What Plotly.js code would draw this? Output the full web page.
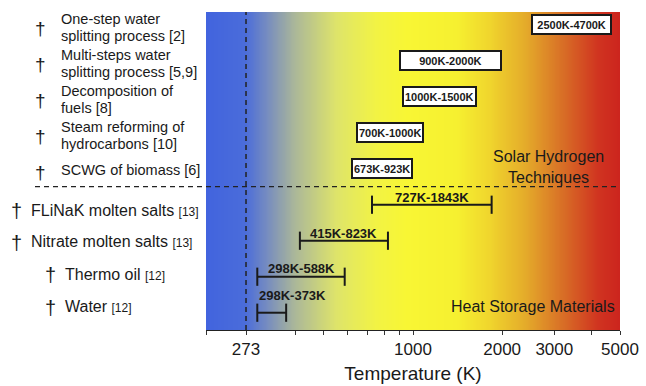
<!DOCTYPE html>
<html><head><meta charset="utf-8">
<script src="https://cdn.plot.ly/plotly-3.0.1.min.js"></script>
<style>html,body{margin:0;padding:0;background:#fff}#chart{width:646px;height:386px}</style>
</head><body><div id="chart"></div>
<script>
// ---- Data ----
const solarLines = [["One-step water","splitting process [2]"],["Multi-steps water","splitting process [5,9]"],["Decomposition of","fuels [8]"],["Steam reforming of","hydrocarbons [10]"],["SCWG of biomass [6]"]];
const solarLo = [2500, 900, 1000, 700, 673];
const solarHi = [4700, 2000, 1500, 1000, 923];
const heatNames = ["FLiNaK molten salts","Nitrate molten salts","Thermo oil","Water"];
const heatRefs = ["[13]","[13]","[12]","[12]"];
const heatLo = [727, 415, 298, 298];
const heatHi = [1843, 823, 588, 373];
const tickVals = [273, 1000, 2000, 3000, 5000];
const tickText = ["273","1000","2000","3000","5000"];
const minorTicks = [200, 400, 500, 600, 700, 800, 900, 4000];
const freezingK = 273;
const xRange = [200, 5000];

// ---- Style / layout ----
const FONT = "Arial, 'Liberation Sans', Helvetica, sans-serif";
const W = 646, H = 386, L = 206, R = 26, T = 12, B = 56;
const plotW = W - L - R;
const logMin = Math.log10(xRange[0]), logMax = Math.log10(xRange[1]);
const ppd = plotW / (logMax - logMin);
const yRange = [8.48, -0.353];
const INK = '#1a1a1a';

// background colour stops (temperature, rgb)
const gradStops = [[200,[66,100,222]],[270,[74,108,218]],[320,[118,140,192]],[400,[172,184,152]],[550,[222,228,106]],[750,[242,243,68]],[950,[248,246,52]],[1400,[246,240,48]],[1800,[240,214,45]],[2400,[228,170,42]],[3200,[216,110,38]],[4200,[208,52,32]],[5000,[204,36,30]]];
const colorscale = gradStops.map(s => [(Math.log10(s[0]) - logMin) / (logMax - logMin), 'rgb(' + s[1].join(',') + ')']);
const gx = [];
for (let i = 0; i <= 160; i++) gx.push(logMin + (logMax - logMin) * i / 160);

const traces = [{
  type: 'heatmap', x: gx, y: [yRange[1], yRange[0]], z: [gx, gx],
  xaxis: 'x', yaxis: 'y', colorscale: colorscale, zmin: logMin, zmax: logMax,
  showscale: false, zsmooth: 'best', hoverinfo: 'skip'
}];

const nS = solarLo.length;
heatLo.forEach((lo, i) => {
  traces.push({
    type: 'scatter', mode: 'lines+markers', x: [lo, heatHi[i]], y: [nS + i, nS + i],
    xaxis: 'x2', yaxis: 'y', showlegend: false, hoverinfo: 'skip',
    line: {color: INK, width: 2},
    marker: {symbol: 'line-ns', size: 13, color: INK, line: {width: 2, color: INK}}
  });
});

const ctx = document.createElement('canvas').getContext('2d');
ctx.font = "bold 11px Arial, 'Liberation Sans'";

const ann = [];
const px2paper = p => (p - L) / plotW;
const BOX_BW = 2, BOX_PAD = 1;

// Solar boxes
solarLo.forEach((lo, i) => {
  const hi = solarHi[i];
  const txt = lo + 'K-' + hi + 'K';
  const rangePx = (Math.log10(hi) - Math.log10(lo)) * ppd;
  const tw = ctx.measureText(txt).width;
  const a = {
    xref: 'x', yref: 'y', x: (Math.log10(lo) + Math.log10(hi)) / 2, y: i,
    text: '<b>' + txt + '</b>', showarrow: false, bgcolor: '#fff', bordercolor: INK,
    borderwidth: BOX_BW, borderpad: BOX_PAD, height: 15,
    font: {family: FONT, size: 11, color: INK}
  };
  const inner = rangePx - 2 * (BOX_BW + BOX_PAD);
  if (inner > tw + 2) a.width = inner;
  ann.push(a);
  // left labels
  const lines = solarLines[i];
  const offs = lines.length === 2 ? [-5.8, 10.8] : [1.5];
  lines.forEach((ln, k) => {
    ann.push({xref: 'paper', yref: 'y', x: px2paper(59), y: i, yshift: -offs[k], xanchor: 'left', yanchor: 'middle',
      text: ln, showarrow: false, font: {family: FONT, size: 14.5, color: INK}});
  });
  ann.push({xref: 'paper', yref: 'y', x: px2paper(40.5), y: i, yshift: -4, xanchor: 'center', yanchor: 'middle',
    text: '†', showarrow: false, font: {family: FONT, size: 19, color: INK}});
});

// Heat storage labels
const heatLabelAnchor = ['center', 'center', 'center', 'left'];
const heatLabelLift = [7, 7, 8, 17];
const heatNameShift = [5.3, 1, -2.7, -6];
const heatDaggerX = [16, 16, 50.5, 50.5];
const heatTextX = [29, 29, 63, 63];
heatLo.forEach((lo, i) => {
  const hi = heatHi[i];
  const r = nS + i;
  ann.push({xref: 'x', yref: 'y',
    x: heatLabelAnchor[i] === 'left' ? Math.log10(lo) : (Math.log10(lo) + Math.log10(hi)) / 2,
    xanchor: heatLabelAnchor[i], y: r, yshift: heatLabelLift[i], yanchor: 'middle',
    text: '<b>' + lo + 'K-' + hi + 'K</b>', showarrow: false, font: {family: FONT, size: 13, color: INK}});
  ann.push({xref: 'paper', yref: 'y', x: px2paper(heatTextX[i]), y: r, yshift: -heatNameShift[i], xanchor: 'left', yanchor: 'middle',
    text: heatNames[i] + ' <span style="font-size:12px">' + heatRefs[i] + '</span>', showarrow: false,
    font: {family: FONT, size: 16, color: INK}});
  ann.push({xref: 'paper', yref: 'y', x: px2paper(heatDaggerX[i]), y: r, yshift: -heatNameShift[i] - 1, xanchor: 'center', yanchor: 'middle',
    text: '†', showarrow: false, font: {family: FONT, size: 20, color: INK}});
});

ann.push({xref: 'paper', yref: 'y', x: px2paper(548), y: (166.5 - 24.7) / 36, xanchor: 'center', yanchor: 'middle',
  text: 'Solar Hydrogen<br>Techniques', showarrow: false, font: {family: FONT, size: 16, color: INK}});
ann.push({xref: 'paper', yref: 'y', x: px2paper(533.3), y: (306 - 24.7) / 36, xanchor: 'center', yanchor: 'middle',
  text: 'Heat Storage Materials', showarrow: false, font: {family: FONT, size: 16, color: INK}});

const shapes = [
  {type: 'line', xref: 'x', yref: 'paper', x0: Math.log10(freezingK), x1: Math.log10(freezingK), y0: 0, y1: 1,
    line: {color: '#222', width: 1.5, dash: '5px,4px'}},
  {type: 'line', xref: 'paper', yref: 'y', x0: px2paper(35), x1: 1, y0: nS - 0.5, y1: nS - 0.5,
    line: {color: '#222', width: 1.3, dash: '5px,4px'}}
];

const layout = {
  width: W, height: H, margin: {l: L, r: R, t: T, b: B},
  paper_bgcolor: '#fff', plot_bgcolor: '#fff', showlegend: false,
  font: {family: FONT, color: INK},
  xaxis: {range: [logMin, logMax], visible: false, fixedrange: true},
  xaxis2: {type: 'log', overlaying: 'x', side: 'bottom', range: [logMin, logMax],
    tickmode: 'array', tickvals: tickVals, ticktext: tickText,
    ticks: 'outside', ticklen: 4, tickwidth: 1, tickcolor: '#333',
    showline: true, linecolor: '#222', linewidth: 1, showgrid: false, zeroline: false,
    tickfont: {family: FONT, size: 17, color: INK},
    minor: {tickvals: minorTicks, ticks: 'outside', ticklen: 4, tickwidth: 1, tickcolor: '#333', showgrid: false},
    title: {text: 'Temperature (K)', font: {family: FONT, size: 19, color: INK}, standoff: 8}},
  yaxis: {range: yRange, visible: false, fixedrange: true},
  annotations: ann, shapes: shapes
};

Plotly.newPlot('chart', traces, layout, {displayModeBar: false, staticPlot: true});
</script></body></html>
